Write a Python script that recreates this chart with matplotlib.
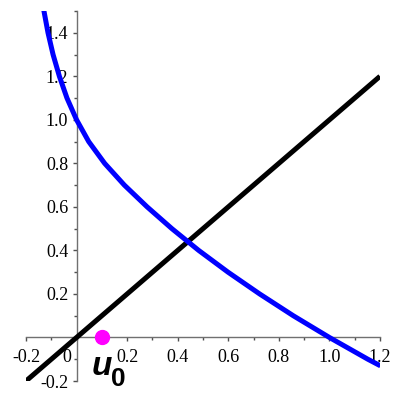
import matplotlib
matplotlib.use('Agg')
import matplotlib.pyplot as plt
from matplotlib.ticker import MultipleLocator, FixedLocator

# values
curve_x = [-0.129, -0.113, -0.093, -0.068, -0.038, 0.0, 0.048, 0.111, 0.189, 0.279,
           0.377, 0.483, 0.599, 0.724, 0.857, 1.0, 1.152, 1.193]
curve_y = [1.5, 1.4, 1.3, 1.2, 1.1, 1.0, 0.9, 0.8, 0.7, 0.6,
           0.5, 0.4, 0.3, 0.2, 0.1, 0.0, -0.1, -0.125]
line_x = [-0.2, 1.2]
line_y = [-0.2, 1.2]
point_x = [0.1]
point_y = [0.0]

x_ticks = [-0.2, 0.2, 0.4, 0.6, 0.8, 1.0, 1.2]
y_ticks = [-0.2, 0.2, 0.4, 0.6, 0.8, 1.0, 1.2, 1.4]

plt.rcParams['font.family'] = ['Liberation Serif', 'DejaVu Serif']

fig = plt.figure(figsize=(4, 4), dpi=100)
ax = fig.add_axes([0.065, 0.0475, 0.885, 0.925])

ax.plot(line_x, line_y, color='black', lw=3.6, solid_capstyle='butt', zorder=3)
ax.plot(curve_x, curve_y, color='#0000ff', lw=3.6, zorder=4)
ax.plot(point_x, point_y, 'o', color='#ff00ff', ms=10, zorder=5, clip_on=False)

ax.set_xlim(-0.2, 1.2)
ax.set_ylim(-0.2, 1.5)

for side in ['top', 'right']:
    ax.spines[side].set_visible(False)
ax.spines['left'].set_position(('data', 0))
ax.spines['bottom'].set_position(('data', 0))
for side in ['left', 'bottom']:
    ax.spines[side].set_color('#707070')
    ax.spines[side].set_linewidth(1)

ax.xaxis.set_major_locator(FixedLocator(x_ticks))
ax.yaxis.set_major_locator(FixedLocator(y_ticks))
ax.xaxis.set_minor_locator(MultipleLocator(0.1))
ax.yaxis.set_minor_locator(MultipleLocator(0.1))
ax.set_xticklabels(['%.1f' % v for v in x_ticks])
ax.set_yticklabels(['%.1f' % v for v in y_ticks])
ax.tick_params(which='major', length=3, width=1, color='#505050', labelsize=13, pad=5)
ax.tick_params(which='minor', length=2.2, width=1, color='#505050')
ax.tick_params(axis='y', pad=3)

ax.annotate('0', xy=(-0.04, 0), xytext=(0, -8.5), textcoords='offset points',
            ha='center', va='top', fontsize=13)

ax.text(0.06, -0.06, 'u', fontsize=24, fontweight='bold', fontstyle='italic',
        family=['Liberation Sans', 'DejaVu Sans'], ha='left', va='top', zorder=6)
ax.text(0.135, -0.135, '0', fontsize=19, fontweight='bold',
        family=['Liberation Sans', 'DejaVu Sans'], ha='left', va='top', zorder=6)

plt.savefig('out.png', dpi=100)
